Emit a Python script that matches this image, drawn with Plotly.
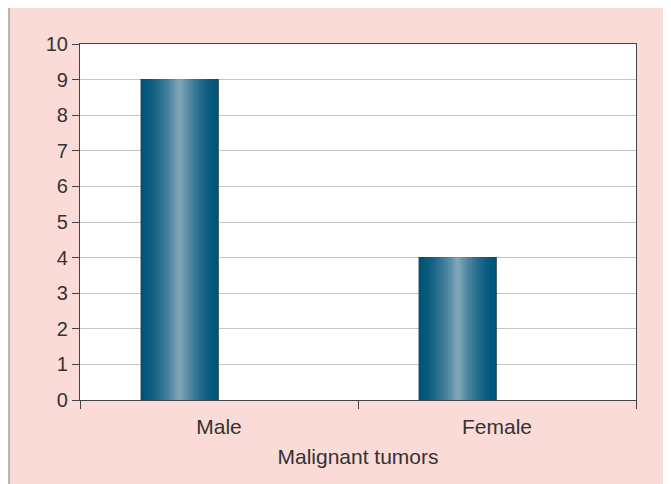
import plotly.graph_objects as go

categories = ["Male", "Female"]
values = [9, 4]
y_ticks = list(range(0, 11))
x_title = "Malignant tumors"

# gradient styling (dark edges -> light centre)
n_layers = 16
bar_width = 0.277
bar_offset = -0.28
dark = (0, 86, 122)
light = (126, 164, 184)

fig = go.Figure()
for i in range(n_layers):
    t = i / (n_layers - 1)
    f = t ** 1.6
    c = tuple(int(round(dark[k] + (light[k] - dark[k]) * f)) for k in range(3))
    w = bar_width * (1 - t * 0.94)
    off = bar_offset + (bar_width - w) / 2
    fig.add_trace(go.Bar(
        x=categories, y=values,
        width=[w] * len(categories), offset=[off] * len(categories),
        marker=dict(color=f"rgb{c}",
                    line=dict(color="#2a3b45" if i == 0 else f"rgb{c}", width=1.2 if i == 0 else 0)),
        hoverinfo="skip", showlegend=False,
    ))

# figure is drawn 8px right/down (page body margin) -> plot area in figure coords
L, R, T, B = 72, 628, 36, 392
PW, PH = R - L, B - T

fig.update_layout(
    width=671, height=484,
    barmode="overlay",
    paper_bgcolor="white",
    plot_bgcolor="white",
    margin=dict(l=L, r=671 - R, t=T, b=484 - B),
    font=dict(family="Liberation Sans, Arial, sans-serif", size=21, color="#333333"),
    shapes=[
        dict(type="rect", xref="paper", yref="paper",
             x0=(1 - L) / PW, x1=(656 - L) / PW,
             y0=(B - 520) / PH, y1=(B + 1) / PH,
             fillcolor="#fadbd7", line=dict(color="#a3a3a3", width=1.5),
             layer="below"),
        dict(type="rect", xref="paper", yref="paper",
             x0=0, x1=1, y0=0, y1=1,
             fillcolor="white", line=dict(width=0), layer="below"),
    ],
)
fig.update_xaxes(
    type="category", tickson="boundaries", ticks="outside", ticklen=8,
    tickcolor="#444", showline=True, linecolor="#444", linewidth=1.2, mirror=True,
    showgrid=False, tickfont=dict(size=21), ticklabelstandoff=8,
    title=dict(text=x_title, font=dict(size=21), standoff=12),
)
fig.update_yaxes(
    range=[0, 10], tickvals=y_ticks, ticks="outside", ticklen=7, tickcolor="#444",
    showline=True, linecolor="#444", linewidth=1.2, mirror=True,
    showgrid=True, gridcolor="#c4c4c4", gridwidth=1, zeroline=False,
    tickfont=dict(size=20), ticklabelstandoff=0,
)
fig.write_html("out.html")
